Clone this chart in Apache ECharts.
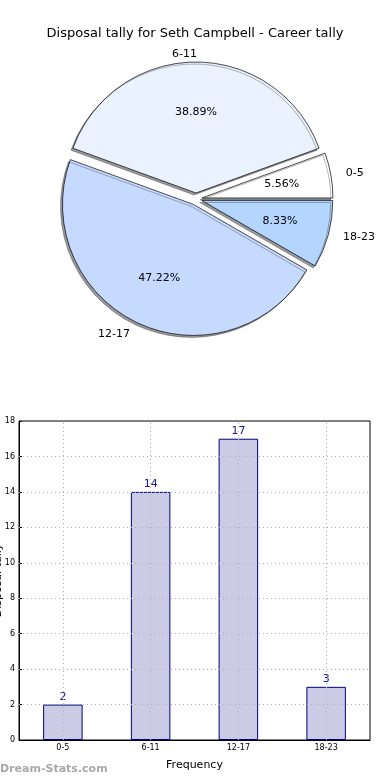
<!DOCTYPE html>
<html><head><meta charset="utf-8">
<script src="https://cdn.jsdelivr.net/npm/echarts@6/dist/echarts.min.js"></script>
<style>html,body{margin:0;padding:0;background:#fff}#c{width:390px;height:780px}</style>
</head><body><div id="c"></div>
<script>
var categories = ['0-5', '6-11', '12-17', '18-23'];
var values = [2, 14, 17, 3];
var yTicks = [0, 2, 4, 6, 8, 10, 12, 14, 16, 18];
var pieColors = ['#ffffff', '#eaf1ff', '#c6d9ff', '#b3d5ff'];
var titleText = 'Disposal tally for Seth Campbell - Career tally';
var xName = 'Frequency';
var yName = 'Disposal tally';
var watermark = 'Dream-Stats.com';

var FONT = 'DejaVu Sans';
var chart = echarts.init(document.getElementById('c'), null, {renderer: 'canvas'});

var pieData = categories.map(function (c, i) {
  return {name: c, value: values[i], selected: true, itemStyle: {color: pieColors[i]}};
});
var pieDataLabels = categories.map(function (c, i) {
  return {name: c, value: values[i], selected: true};
});
var gridDots = {color: '#b0b0b0', type: [1, 3], width: 1};
var innerTicks = yTicks.slice(1, yTicks.length - 1);

chart.setOption({
  backgroundColor: '#ffffff',
  animation: false,
  title: {
    text: titleText, left: 'center', top: 22,
    textStyle: {fontFamily: FONT, fontSize: 13, fontWeight: 'normal', color: '#000'}
  },
  graphic: [{
    type: 'text', left: 0, top: 764,
    style: {text: watermark, fontFamily: FONT, fontSize: 11, fontWeight: 'bold', fill: '#a8a8a8'}
  }],
  grid: {left: 19, right: 20, top: 421, height: 319, outerBoundsMode: 'none', containLabel: false,
         show: true, borderColor: '#000', borderWidth: 1, backgroundColor: 'transparent'},
  xAxis: {
    type: 'category', data: categories,
    name: xName, nameLocation: 'middle', nameGap: 20, nameMoveOverlap: false,
    nameTextStyle: {fontFamily: FONT, fontSize: 11, color: '#000'},
    axisLine: {show: true, lineStyle: {color: '#000'}},
    axisTick: {show: false},
    axisLabel: {fontFamily: FONT, fontSize: 8, color: '#000', margin: 4},
    splitLine: {show: false}
  },
  yAxis: {
    type: 'value', min: 0, max: 18, interval: 2,
    name: yName, nameLocation: 'middle', nameGap: 15, nameRotate: 90, nameMoveOverlap: false,
    nameTextStyle: {fontFamily: FONT, fontSize: 11, color: '#000'},
    axisLine: {show: true, lineStyle: {color: '#000'}},
    axisTick: {show: true, inside: true, length: 3, lineStyle: {color: '#000'}},
    axisLabel: {fontFamily: FONT, fontSize: 8, color: '#000', margin: 4},
    splitLine: {show: false}
  },
  series: [
    {
      type: 'pie', center: [196, 199], radius: [0, 131],
      startAngle: 0, clockwise: false,
      selectedMode: 'multiple', selectedOffset: 6,
      avoidLabelOverlap: false,
      data: pieData,
      itemStyle: {borderColor: '#000', borderWidth: 0.7, shadowColor: 'rgba(0,0,0,0.4)', shadowOffsetX: -2, shadowOffsetY: 2, shadowBlur: 0},
      select: {itemStyle: {borderColor: '#000', borderWidth: 0.7}},
      emphasis: {disabled: true},
      label: {show: true, position: 'outside', formatter: '{b}', fontFamily: FONT, fontSize: 11, color: '#000', distanceToLabelLine: 3},
      labelLine: {show: false, length: 12, length2: 0},
      labelLayout: function (p) { return p.dataIndex === 1 ? {align: 'right', dx: -2, dy: 4} : {}; }
    },
    {
      type: 'pie', center: [196, 199], radius: [0, 156],
      startAngle: 0, clockwise: false,
      selectedMode: 'multiple', selectedOffset: 6,
      silent: true, z: 3,
      data: pieDataLabels,
      itemStyle: {color: 'rgba(0,0,0,0)', borderWidth: 0},
      select: {itemStyle: {color: 'rgba(0,0,0,0)', borderWidth: 0}},
      emphasis: {disabled: true},
      label: {show: true, position: 'inside', formatter: '{d}%', fontFamily: FONT, fontSize: 11, color: '#000'},
      labelLine: {show: false}
    },
    {
      type: 'bar', data: values, barWidth: '45%',
      itemStyle: {color: '#cbcbe6', borderColor: '#000080', borderWidth: 1},
      label: {show: true, position: 'top', distance: 2, fontFamily: FONT, fontSize: 11, color: '#1a1a8c'},
      emphasis: {disabled: true},
      markLine: {
        silent: true, symbol: 'none', label: {show: false},
        lineStyle: gridDots,
        data: categories.map(function (c) { return {xAxis: c}; })
          .concat(innerTicks.map(function (v) { return {yAxis: v}; }))
      }
    }
  ]
});
</script></body></html>
